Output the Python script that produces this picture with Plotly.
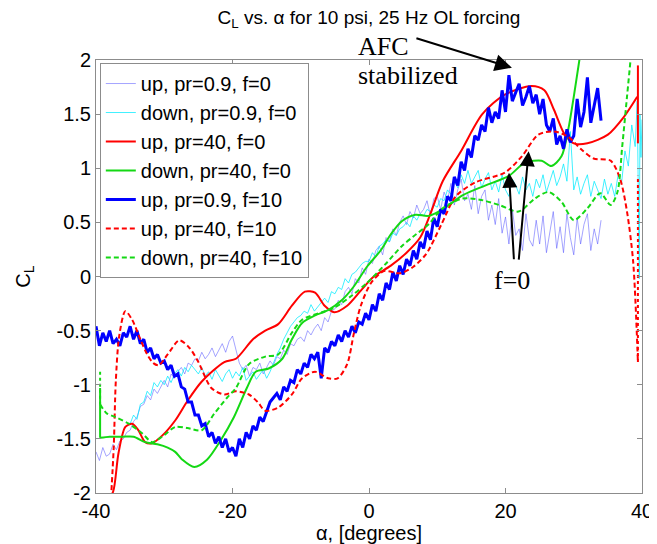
import numpy as np
import plotly.graph_objects as go

# ---------------- data ----------------
# up, pr=0.9, f=0  (alpha grid -40 .. 34 step 0.5)
alpha_up09_f0 = np.arange(-40.0, 34.01, 0.5)
cl_up09_f0 = [
    -1.62, -1.70, -1.58, -1.66, -1.64, -1.55, -1.60, -1.52, -1.50, -1.44,
    -1.42, -1.34, -1.30, -1.20, -1.18, -1.10, -1.14, -1.04, -1.08, -1.02,
    -0.96, -1.02, -0.90, -0.94, -0.88, -0.84, -0.90, -0.80, -0.82, -0.76,
    -0.78, -0.70, -0.76, -0.72, -0.66, -0.74, -0.68, -0.62, -0.70, -0.60,
    -0.55, -0.68, -0.80, -0.86, -0.82, -0.92, -0.84, -0.86, -0.80, -0.90,
    -0.84, -0.78, -0.82, -0.74, -0.76, -0.68, -0.72, -0.62, -0.64, -0.58,
    -0.56, -0.60, -0.50, -0.54, -0.48, -0.44, -0.50, -0.38, -0.42, -0.32,
    -0.30, -0.22, -0.26, -0.14, -0.10, -0.16, -0.02, -0.06, 0.08, 0.02,
    0.16, 0.12, 0.24, 0.28, 0.20, 0.36, 0.32, 0.44, 0.38, 0.50,
    0.56, 0.48, 0.60, 0.54, 0.66, 0.58, 0.62, 0.70, 0.56, 0.72,
    0.74, 0.62, 0.78, 0.70, 0.86, 0.66, 0.80, 0.90, 0.70, 0.76,
    0.62, 0.84, 0.58, 0.74, 0.80, 0.52, 0.66, 0.48, 0.72, 0.40,
    0.55, 0.30, 0.62, 0.38, 0.44, 0.24, 0.58, 0.34, 0.28, 0.52,
    0.30, 0.56, 0.22, 0.40, 0.60, 0.26, 0.46, 0.22, 0.58, 0.36,
    0.20, 0.54, 0.30, 0.48, 0.58, 0.24, 0.44, 0.30, 0.52,
]

# down, pr=0.9, f=0  (alpha grid -35 .. 39 step 0.5, plus end samples)
alpha_dn09_f0 = list(np.arange(-35.0, 39.01, 0.5)) + [39.3, 39.5, 39.6, 39.7, 39.85, 40.0]
cl_dn09_f0 = [
    -1.36, -1.28, -1.32, -1.18, -1.16, -1.06, -1.10, -0.98, -1.02, -0.96,
    -1.00, -0.92, -0.98, -0.90, -0.86, -0.92, -0.84, -0.88, -0.82, -0.86,
    -0.90, -0.84, -0.92, -0.88, -0.95, -0.86, -0.92, -0.97, -0.90, -0.86,
    -0.94, -0.88, -0.92, -0.84, -0.96, -0.92, -0.88, -0.95, -0.90, -0.86,
    -0.94, -0.88, -0.80, -0.72, -0.66, -0.58, -0.52, -0.46, -0.42, -0.38,
    -0.36, -0.32, -0.34, -0.26, -0.32, -0.28, -0.24, -0.20, -0.24, -0.14,
    -0.16, -0.10, -0.12, -0.02, -0.06, 0.02, 0.04, 0.08, 0.12, 0.14,
    0.14, 0.22, 0.18, 0.28, 0.30, 0.34, 0.32, 0.40, 0.38, 0.44,
    0.46, 0.50, 0.46, 0.56, 0.52, 0.58, 0.56, 0.62, 0.60, 0.66,
    0.64, 0.72, 0.70, 0.80, 0.76, 0.88, 0.82, 0.94, 0.86, 0.98,
    0.86, 0.92, 0.98, 0.82, 0.90, 0.96, 0.80, 0.88, 0.78, 0.94,
    0.80, 0.74, 0.90, 0.84, 0.76, 0.92, 0.80, 0.86, 0.74, 0.90,
    0.82, 0.94, 0.78, 0.88, 0.98, 0.84, 0.92, 1.04, 0.88, 1.34,
    0.80, 0.92, 0.76, 0.86, 0.94, 0.74, 0.88, 0.80, 0.72, 0.90,
    0.76, 0.86, 0.74, 0.94, 0.86, 1.16, 1.02, 1.40, 1.20,
    1.62, 0.80, -0.02, 1.50, 1.10, 1.45,
]

# up, pr=40, f=0
alpha_up40_f0 = [-38.2, -37.5, -36.7, -35.7, -34.7, -33.8, -32.8, -31.8, -30.3, -28.4,
                 -26.6, -24.5, -21.2, -19.5, -17.0, -15.2, -13.3, -11.3, -9.4, -7.9,
                 -6.5, -5.1, -3.2, -1.2, 0.7, 3.2, 5.5, 7.5, 9.0, 10.8,
                 13.5, 16.6, 19.9, 23.8, 25.7, 27.1, 28.6, 30.0, 32.0, 35.0,
                 37.3, 39.3]
cl_up40_f0 = [-2.05, -1.99, -1.63, -1.39, -1.36, -1.42, -1.53, -1.54, -1.47, -1.33,
              -1.15, -0.97, -0.79, -0.76, -0.58, -0.50, -0.44, -0.27, -0.14, -0.15,
              -0.27, -0.33, -0.27, -0.13, 0.00, 0.10, 0.22, 0.36, 0.58, 0.88,
              1.16, 1.50, 1.68, 1.76, 1.72, 1.54, 1.32, 1.23, 1.23, 1.31,
              1.47, 1.66]
alpha_up40_f0_end = [39.4, 39.4]
cl_up40_f0_end = [1.95, 1.23]

# down, pr=40, f=0
alpha_dn40_f0 = [-39.4, -38.0, -36.1, -34.5, -32.8, -31.0, -29.5, -28.4, -27.4, -25.6,
                 -23.7, -21.7, -19.8, -17.9, -16.6, -14.7, -12.7, -11.3, -9.8, -7.9,
                 -6.0, -4.0, -2.2, -0.3, 1.7, 3.2, 4.8, 6.8, 8.7, 10.8,
                 13.7, 17.0, 20.5, 22.8, 25.3, 26.7, 28.2, 29.2, 30.0, 30.8, 31.2]
cl_dn40_f0 = [-1.49, -1.48, -1.48, -1.48, -1.53, -1.55, -1.58, -1.62, -1.69, -1.76,
              -1.69, -1.51, -1.30, -1.03, -0.88, -0.85, -0.76, -0.58, -0.43, -0.36,
              -0.31, -0.22, -0.09, 0.09, 0.24, 0.39, 0.51, 0.57, 0.56, 0.62,
              0.75, 0.84, 0.93, 1.05, 1.07, 1.02, 1.11, 1.36, 1.66, 1.99, 2.15]
alpha_dn40_f0_end = [-39.4, -39.4]
cl_dn40_f0_end = [-1.03, -1.49]

# up, pr=0.9, f=10  (alpha grid -40 .. 34 step 0.5)
alpha_up09_f10 = np.arange(-40.0, 34.01, 0.5)
cl_up09_f10 = [
    -0.46, -0.64, -0.52, -0.60, -0.50, -0.62, -0.58, -0.64, -0.52, -0.56,
    -0.46, -0.58, -0.50, -0.62, -0.58, -0.70, -0.66, -0.76, -0.72, -0.80,
    -0.78, -0.86, -0.82, -0.92, -0.90, -1.02, -1.04, -1.16, -1.16, -1.28,
    -1.28, -1.38, -1.36, -1.48, -1.44, -1.54, -1.48, -1.58, -1.50, -1.62,
    -1.58, -1.66, -1.50, -1.58, -1.44, -1.50, -1.38, -1.42, -1.30, -1.34,
    -1.25, -1.16, -1.12, -1.08, -1.14, -1.02, -1.06, -0.96, -0.98, -0.86,
    -0.90, -0.80, -0.84, -0.72, -0.76, -0.70, -0.94, -0.66, -0.70, -0.60,
    -0.64, -0.54, -0.60, -0.50, -0.56, -0.46, -0.52, -0.42, -0.44, -0.34,
    -0.40, -0.26, -0.32, -0.16, -0.22, -0.06, -0.12, 0.04, -0.04, 0.10,
    0.02, 0.16, 0.10, 0.24, 0.16, 0.32, 0.26, 0.42, 0.34, 0.54,
    0.46, 0.62, 0.58, 0.74, 0.70, 0.92, 0.84, 1.06, 0.98, 1.18,
    1.10, 1.30, 1.26, 1.40, 1.34, 1.56, 1.42, 1.52, 1.46, 1.72,
    1.52, 1.86, 1.62, 1.70, 1.78, 1.58, 1.66, 1.76, 1.60, 1.68,
    1.50, 1.64, 1.40, 1.34, 1.46, 1.22, 1.30, 1.18, 1.36, 1.24,
    1.30, 1.64, 1.38, 1.52, 1.84, 1.42, 1.60, 1.74, 1.44,
]

# up, pr=40, f=10
alpha_up40_f10 = [-37.8, -37.4, -37.1, -36.6, -35.7, -34.7, -33.5, -32.5, -31.6, -30.8,
                  -29.5, -27.8, -26.3, -25.0, -23.1, -21.2, -19.5, -17.6, -16.3, -15.2,
                  -13.3, -11.3, -9.8, -7.9, -6.0, -4.6, -3.2, -2.2, -1.2, 0.3,
                  2.2, 4.6, 6.5, 8.4, 10.6, 12.7, 15.6, 19.9, 22.4, 24.8,
                  27.1, 29.2, 31.0, 32.9, 35.4, 36.8, 37.8, 38.7, 39.4]
cl_up40_f10 = [-2.05, -1.57, -0.97, -0.55, -0.32, -0.40, -0.58, -0.72, -0.80, -0.82,
               -0.72, -0.59, -0.66, -0.79, -1.03, -1.09, -1.06, -1.09, -1.16, -1.24,
               -1.21, -1.09, -0.94, -0.88, -0.94, -0.94, -0.81, -0.52, -0.27, -0.06,
               0.05, 0.03, 0.09, 0.21, 0.48, 0.74, 0.87, 0.96, 1.11, 1.31,
               1.34, 1.29, 1.18, 1.09, 1.07, 0.90, 0.60, 0.14, -0.79]
alpha_up40_f10_end = [39.4, 39.4]
cl_up40_f10_end = [-0.79, 0.93]

# down, pr=40, f=10
alpha_dn40_f10 = [-39.4, -38.5, -37.1, -35.2, -33.2, -31.8, -30.3, -28.4, -26.6, -24.5,
                  -22.7, -20.8, -19.5, -17.6, -15.2, -13.3, -11.3, -9.8, -6.9, -5.1,
                  -2.6, -0.3, 2.5, 4.8, 6.5, 8.7, 10.8, 13.7, 16.2, 19.1,
                  21.9, 24.3, 26.3, 28.2, 30.0, 32.0, 33.9, 35.4, 36.4, 37.1,
                  37.8, 38.3, 38.5]
cl_dn40_f10 = [-1.18, -1.26, -1.30, -1.36, -1.45, -1.53, -1.48, -1.39, -1.40, -1.42,
               -1.27, -1.12, -1.03, -0.81, -0.74, -0.72, -0.52, -0.40, -0.33, -0.29,
               -0.18, -0.06, 0.12, 0.28, 0.37, 0.48, 0.63, 0.72, 0.71, 0.66,
               0.60, 0.72, 0.78, 0.69, 0.52, 0.63, 0.77, 0.66, 0.78, 1.20,
               1.66, 1.99, 2.15]
alpha_dn40_f10_end = [-39.4, -39.4]
cl_dn40_f10_end = [-0.88, -1.18]

x_tick_vals = [-40, -20, 0, 20, 40]
x_tick_text = ["-40", "-20", "0", "20", "40"]
y_tick_vals = [-2, -1.5, -1, -0.5, 0, 0.5, 1, 1.5, 2]
y_tick_text = ["-2", "-1.5", "-1", "-0.5", "0", "0.5", "1", "1.5", "2"]

# ---------------- figure ----------------
SANS = "Arial, 'Liberation Sans', sans-serif"
SERIF = "'Times New Roman', 'Liberation Serif', serif"

RED = "#ff0000"
GREEN = "#14d814"
BLUE = "#0000ff"
LBLUE = "rgba(90,90,255,0.55)"
CYAN = "rgba(0,235,255,0.75)"

fig = go.Figure()

def add(x, y, name, color, width, dash="solid", shape="linear", legend=True):
    fig.add_trace(go.Scatter(
        x=x, y=y, mode="lines", name=name, showlegend=legend,
        legendgroup=name,
        line=dict(color=color, width=width, dash=dash, shape=shape,
                  smoothing=0.8 if shape == "spline" else None),
        hoverinfo="skip",
    ))

add(alpha_up09_f0, cl_up09_f0, "up, pr=0.9, f=0", LBLUE, 1)
add(alpha_dn09_f0, cl_dn09_f0, "down, pr=0.9, f=0", CYAN, 1)
add(alpha_up40_f0, cl_up40_f0, "up, pr=40, f=0", RED, 2, shape="spline")
add(alpha_dn40_f0, cl_dn40_f0, "down, pr=40, f=0", GREEN, 2, shape="spline")
add(alpha_up09_f10, cl_up09_f10, "up, pr=0.9, f=10", BLUE, 3)
add(alpha_up40_f10, cl_up40_f10, "up, pr=40, f=10", RED, 2, dash="5px,3px", shape="spline")
add(alpha_dn40_f10, cl_dn40_f10, "down, pr=40, f=10", GREEN, 2, dash="5px,3px", shape="spline")

add(alpha_up40_f0_end, cl_up40_f0_end, "up, pr=40, f=0", RED, 2, legend=False)
add(alpha_dn40_f0_end, cl_dn40_f0_end, "down, pr=40, f=0", GREEN, 2, legend=False)
add(alpha_up40_f10_end, cl_up40_f10_end, "up, pr=40, f=10", RED, 2, dash="3px,3px", legend=False)
add(alpha_dn40_f10_end, cl_dn40_f10_end, "down, pr=40, f=10", GREEN, 2, dash="3px,3px", legend=False)

axis_common = dict(
    showline=True, linecolor="#8c8c8c", linewidth=1, mirror="ticks",
    ticks="inside", ticklen=5, tickcolor="#8c8c8c", tickwidth=1,
    showgrid=False, zeroline=False,
    tickfont=dict(family=SANS, size=20, color="black"),
)

fig.update_layout(
    width=657, height=544,
    margin=dict(l=88, r=15, t=52, b=50),
    paper_bgcolor="white", plot_bgcolor="white",
    font=dict(family=SANS, size=20, color="black"),
    title=dict(text="C<sub>L</sub> vs. α for 10 psi, 25 Hz OL forcing",
               font=dict(family=SANS, size=19, color="black"),
               xref="paper", x=0.5, xanchor="center",
               yref="container", y=0.982, yanchor="middle"),
    xaxis=dict(range=[-40, 40], tickvals=x_tick_vals, ticktext=x_tick_text,
               title=dict(text="α, [degrees]", font=dict(family=SANS, size=20), standoff=4),
               **axis_common),
    yaxis=dict(range=[-2, 2], tickvals=y_tick_vals, ticktext=y_tick_text,
               title=dict(text="C<sub>L</sub>", font=dict(family=SANS, size=20), standoff=20),
               **axis_common),
    legend=dict(x=0.007, y=0.993, xanchor="left", yanchor="top",
                bgcolor="white", bordercolor="#8c8c8c", borderwidth=1,
                font=dict(family=SANS, size=20, color="black"),
                tracegroupgap=0, itemwidth=30),
    showlegend=True,
)

# annotations
fig.add_annotation(text="AFC", xref="paper", yref="paper",
                   x=(352 - 88) / 554, y=(494 - 38) / 442, xanchor="left", yanchor="middle",
                   showarrow=False, font=dict(family=SERIF, size=26, color="black"))
fig.add_annotation(text="stabilized", xref="paper", yref="paper",
                   x=(352 - 88) / 554, y=(494 - 68) / 442, xanchor="left", yanchor="middle",
                   showarrow=False, font=dict(family=SERIF, size=26, color="black"))
fig.add_annotation(text="", x=20.94, y=1.928, xref="x", yref="y", ax=-97, ay=-30,
                   showarrow=True, arrowhead=2, arrowsize=1.7, arrowwidth=2, arrowcolor="black")
fig.add_annotation(text="f=0", xref="paper", yref="paper",
                   x=(510 - 88) / 554, y=(494 - 277) / 442, xanchor="center", yanchor="middle",
                   showarrow=False, font=dict(family=SERIF, size=26, color="black"))
fig.add_annotation(text="", x=20.51, y=0.959, xref="x", yref="y", ax=5, ay=88,
                   showarrow=True, arrowhead=2, arrowsize=1.5, arrowwidth=2, arrowcolor="black")
fig.add_annotation(text="", x=23.39, y=1.158, xref="x", yref="y", ax=-10, ay=110,
                   showarrow=True, arrowhead=2, arrowsize=1.5, arrowwidth=2, arrowcolor="black")

fig.write_html("out.html")
